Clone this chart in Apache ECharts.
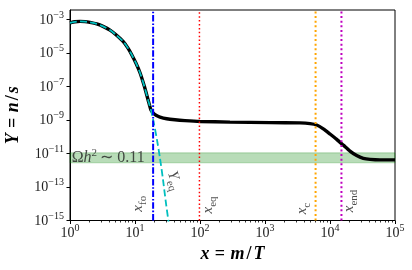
<!DOCTYPE html>
<html><head><meta charset="utf-8">
<script src="https://cdn.jsdelivr.net/npm/echarts@6/dist/echarts.min.js"></script>
<style>html,body{margin:0;padding:0;background:#fff}#c{width:412px;height:270px}</style>
</head><body><div id="c"></div><script>
// ---- data ----
const xYield = [1, 1.194, 1.425, 1.701, 2.031, 2.575, 3.22, 4.125, 5.10, 6.61, 7.80, 8.90, 10.36, 11.94, 14.0, 16.02, 17.63,
  19.12, 21.04, 24.25, 30.74, 41.2, 58.8, 100, 289, 1194, 3454, 4924, 6239, 7889, 10000, 12680, 16020, 20300, 25740, 32540, 41250, 58760, 100000];
const yYield = [6.5e-4, 7.5e-4, 7.9e-4, 7.7e-4, 6.9e-4, 5.6e-4, 4.0e-4, 2.4e-4, 1.26e-4, 4.9e-5, 2.0e-5, 8.1e-6, 2.5e-6, 6.8e-7, 9.8e-8, 1.44e-8, 3.9e-9,
  2.6e-9, 1.95e-9, 1.52e-9, 1.2e-9, 1.04e-9, 9.3e-10, 8.3e-10, 7.6e-10, 7.1e-10, 6.8e-10, 6.2e-10, 5.1e-10, 3.0e-10, 1.48e-10, 7.1e-11, 3.2e-11, 1.41e-11, 7.6e-12, 5.2e-12, 4.5e-12, 4.2e-12, 4.2e-12];
const xEq = [1, 1.194, 1.425, 1.701, 2.031, 2.575, 3.22, 4.125, 5.10, 6.61, 7.80, 8.90, 10.36, 11.94, 14.0, 16.02, 17.63,
  19.6, 21.8, 24.2, 27.0, 29.5, 32.5, 34.0];
const yEq = [6.5e-4, 7.5e-4, 7.9e-4, 7.7e-4, 6.9e-4, 5.6e-4, 4.0e-4, 2.4e-4, 1.26e-4, 4.9e-5, 2.0e-5, 8.1e-6, 2.5e-6, 6.8e-7, 9.8e-8, 1.44e-8, 3.9e-9,
  6.0e-10, 6.6e-11, 5.5e-12, 2.7e-13, 1.7e-14, 1.07e-15, 3.2e-16];
const markerNames = ['fo', 'eq', 'c', 'end'];
const markerX = [19, 98, 6000, 15000];
const markerColors = ['#0000ff', '#ff0000', '#ffa500', '#bf00bf'];
const bandY = [2.8e-12, 1.1e-11];
const xTicks = [1, 10, 100, 1000, 10000, 100000];
const yTicks = [1e-15, 1e-13, 1e-11, 1e-9, 1e-7, 1e-5, 1e-3];
const xRange = [1, 1e5];
const yRange = [1e-15, 0.0038];

const xMinor = [];
for (let d = 1; d < 1e5; d *= 10) for (let k = 2; k <= 9; k++) xMinor.push(d * k);

const serif = 'Liberation Serif';
const tickRich = {
  b: {fontFamily: serif, fontSize: 14, color: '#222', verticalAlign: 'bottom', lineHeight: 15},
  e: {fontFamily: serif, fontSize: 10, color: '#222', verticalAlign: 'bottom', padding: [0, 0, 7, 0], lineHeight: 11}
};
function powFmt(v) {
  const e = Math.round(Math.log10(v));
  return '{b|10}{e|' + String(e).replace('-', '\u2212') + '}';
}
const annRich = {
  i: {fontFamily: serif, fontStyle: 'italic', fontSize: 15, color: '#222', verticalAlign: 'bottom', padding: [0, 0, 3, 0], lineHeight: 16},
  r: {fontFamily: serif, fontSize: 15, color: '#222', verticalAlign: 'bottom', padding: [0, 0, 3, 0], lineHeight: 16},
  s: {fontFamily: serif, fontSize: 11, color: '#222', verticalAlign: 'bottom', lineHeight: 12},
  I: {fontFamily: serif, fontStyle: 'italic', fontSize: 16, color: '#222', verticalAlign: 'bottom', lineHeight: 17},
  R: {fontFamily: serif, fontSize: 16, color: '#222', verticalAlign: 'bottom', lineHeight: 17},
  p: {fontFamily: serif, fontSize: 11, color: '#222', verticalAlign: 'bottom', padding: [0, 0, 8, 0], lineHeight: 12}
};
const annotations = [
  {pos: [12.2, 1.0e-14], text: '{i|x}{s|fo}', rotate: 90, align: 'center'},
  {pos: [147.6, 8.5e-15], text: '{i|x}{s|eq}', rotate: 90, align: 'center'},
  {pos: [4124, 5.2e-15], text: '{i|x}{s|c}', rotate: 90, align: 'center'},
  {pos: [21800, 1.48e-14], text: '{i|x}{s|end}', rotate: 90, align: 'center'},
  {pos: [37, 2.2e-13], text: '{i|Y}{s|eq}', rotate: -72, align: 'center'},
  {pos: [1.06, 5.6e-12], text: '{R|\u03a9}{I|h}{p|2} {R|\u223c 0.11}', rotate: 0, align: 'left'}
];

const zip = (a, b) => a.map((v, i) => [v, b[i]]);

const series = [
  {type: 'line', data: [], xAxisIndex: 0, z: 1, silent: true,
   markArea: {silent: true, itemStyle: {color: 'rgba(0,128,0,0.28)', borderColor: 'rgba(0,128,0,0.25)', borderWidth: 1},
     data: [[{yAxis: bandY[0]}, {yAxis: bandY[1]}]]}},
  {type: 'line', data: zip(xYield, yYield), smooth: 0.2, showSymbol: false, z: 3,
   lineStyle: {color: '#000', width: 3.4}},
  {type: 'line', data: zip(xEq, yEq), smooth: 0.2, showSymbol: false, z: 4,
   lineStyle: {color: '#00bfbf', width: 1.8, type: [7, 3.2]}}
];
const dashTypes = [[6.5, 1.8, 1.6, 1.8], [1.5, 2.4], [2, 2.6], [2, 2.6]];
const widths = [2, 1.5, 2, 2];
markerX.forEach((x, i) => {
  series.push({type: 'line', data: [[x, yRange[0]], [x, yRange[1]]], showSymbol: false, z: 5,
    lineStyle: {color: markerColors[i], width: widths[i], type: dashTypes[i]}});
});
series.push({type: 'scatter', symbolSize: 0, z: 6, silent: true,
  data: annotations.map(a => ({value: a.pos, label: {show: true, position: 'inside', formatter: a.text, rotate: a.rotate, align: a.align, verticalAlign: 'middle', rich: annRich}}))});

const titleRich = {
  i: {fontFamily: serif, fontStyle: 'italic', fontWeight: 'bold', fontSize: 18, color: '#000'},
  r: {fontFamily: serif, fontWeight: 'bold', fontSize: 18, color: '#000', padding: [0, 2]}
};
const chart = echarts.init(document.getElementById('c'), null, {renderer: 'canvas'});
chart.setOption({
  animation: false,
  backgroundColor: '#fff',
  grid: {left: 70, right: 17, top: 10, bottom: 49.5, show: true, borderColor: '#000', borderWidth: 1, backgroundColor: 'transparent', containLabel: false, outerBoundsMode: 'none'},
  xAxis: [{
    type: 'log', logBase: 10, min: xRange[0], max: xRange[1],
    axisLine: {show: true, lineStyle: {color: '#000', width: 1}},
    axisTick: {show: true, length: 3.5, inside: false, lineStyle: {color: '#000'}, customValues: xTicks},
    axisLabel: {show: true, margin: 5, customValues: xTicks, formatter: powFmt, rich: tickRich},
    splitLine: {show: false}, minorTick: {show: false},
    name: '{i|x} {r|=} {i|m}{r|/}{i|T}', nameLocation: 'middle', nameGap: 25,
    nameTextStyle: {rich: titleRich}
  }, {
    type: 'log', logBase: 10, min: xRange[0], max: xRange[1], position: 'bottom',
    axisLine: {show: false},
    axisTick: {show: true, length: 2, inside: false, lineStyle: {color: '#000', width: 0.8}, customValues: xMinor},
    axisLabel: {show: false}, splitLine: {show: false}
  }],
  yAxis: {
    type: 'log', logBase: 10, min: yRange[0], max: yRange[1],
    axisLine: {show: true, lineStyle: {color: '#000', width: 1}},
    axisTick: {show: true, length: 3.5, inside: false, lineStyle: {color: '#000'}, customValues: yTicks},
    axisLabel: {show: true, margin: 6, customValues: yTicks, formatter: powFmt, rich: tickRich},
    splitLine: {show: false}, minorTick: {show: false},
    name: '{i|Y} {r|=} {i|n}{r|/}{i|s}', nameLocation: 'middle', nameGap: 48, nameRotate: 90,
    nameTextStyle: {rich: titleRich}
  },
  series: series
});
</script></body></html>
